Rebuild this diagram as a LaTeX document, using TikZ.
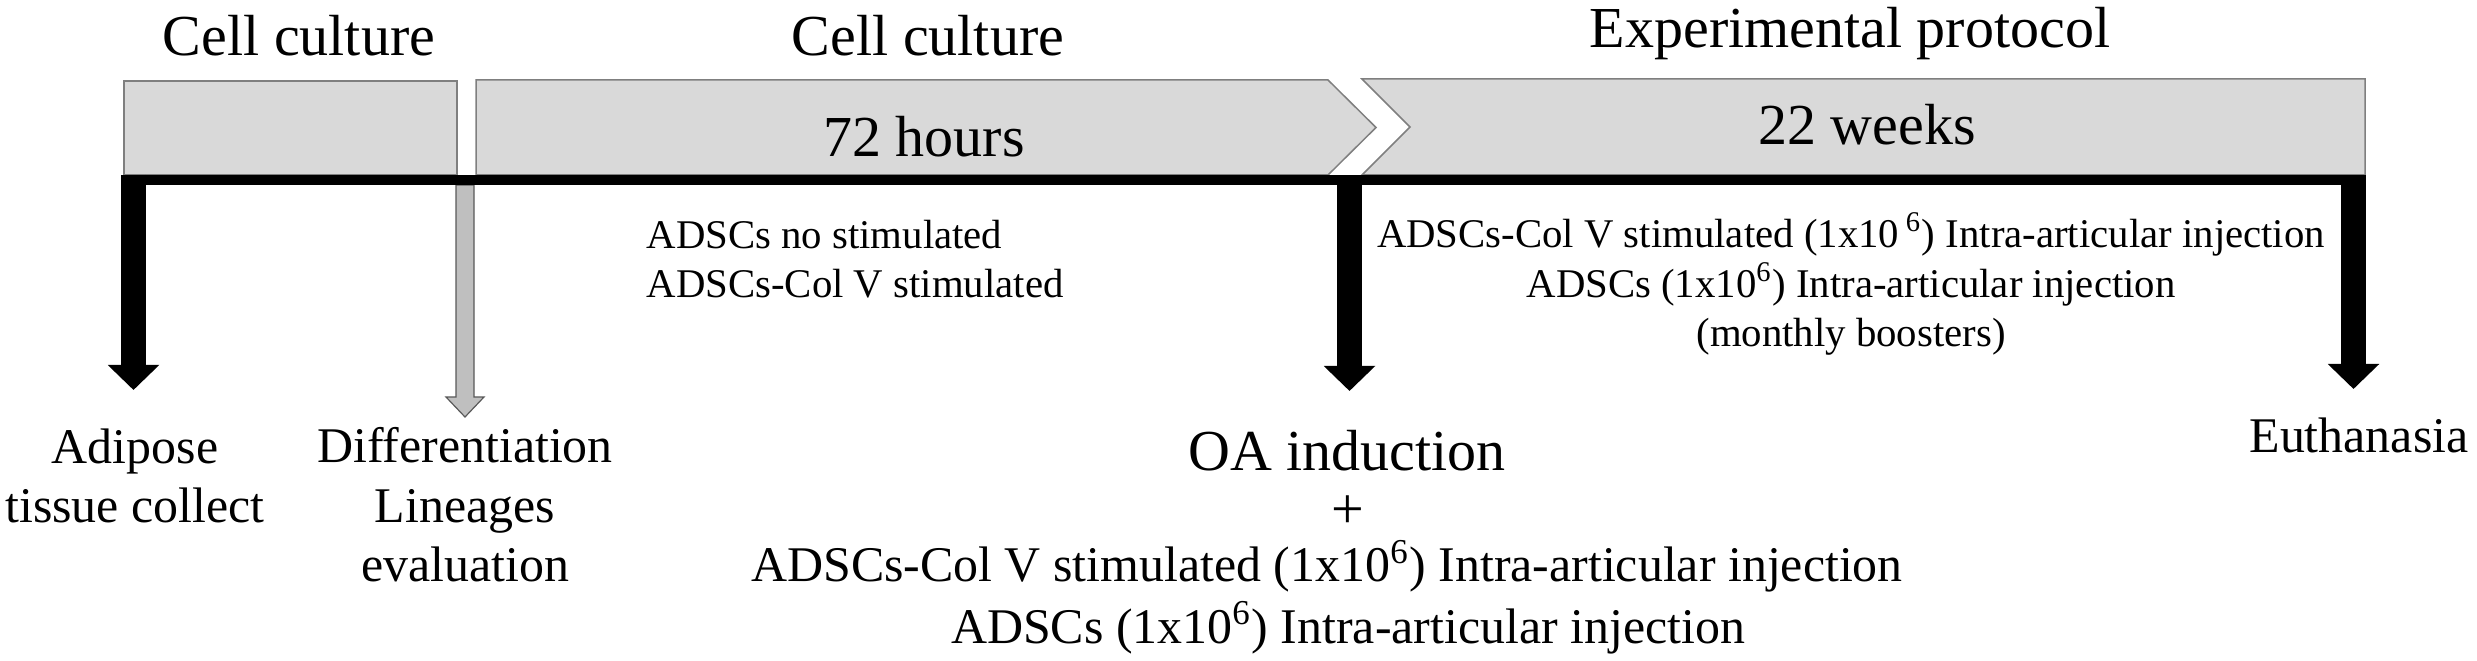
\documentclass[tikz,border=0pt]{standalone}
\usepackage{fontspec}
\setmainfont{Liberation Serif}
\usepackage{xcolor}
\usetikzlibrary{arrows.meta, positioning, calc}
\definecolor{boxgray}{HTML}{D9D9D9}
\definecolor{edgegray}{HTML}{7F7F7F}
\definecolor{arrowgray}{HTML}{BFBFBF}

\begin{document}
\begin{tikzpicture}[x = 0.1mm, y = -0.1mm,
		phase/.style = { fill = boxgray, draw = edgegray, line width = 0.15mm },
		big/.style = { inner sep = 0, anchor = base, font = \fontsize{16.5}{20}\selectfont },
		mid/.style = { inner sep = 0, anchor = base, align = center, font = \fontsize{14.2}{17}\selectfont },
		small/.style = { inner sep = 0, anchor = base, align = center, font = \fontsize{11.6}{14.2}\selectfont },
		stage/.style = { line width = 2.5mm, -{Triangle[length = 2.5mm, width = 5mm]} }]
		\useasboundingbox (0,0) rectangle (2477,661);

		\node [big] (cc1) at (299,56)  {Cell culture};
		\node [big] (cc2) at (928,56)  {Cell culture};
		\node [big] (ep)  at (1850,48) {Experimental protocol};

		\filldraw [phase] (124,81) rectangle (457,175);
		\filldraw [phase] (476,80) -- (1328,80) -- (1376,127.5) -- (1328,175) -- (476,175) -- cycle;
		\filldraw [phase] (1362,79) -- (2365,79) -- (2365,175) -- (1362,175) -- (1410,127) -- cycle;

		\node [big] (h72) at (924,157)  {72 hours};
		\node [big] (w22) at (1867,145) {22 weeks};

		\filldraw [fill = arrowgray, draw = black!65, line width = 0.12mm]
			(456,185) -- (456,397) -- (446,397) -- (465,417) -- (484,397) -- (474,397) -- (474,185) -- cycle;
		\fill (121,175) rectangle (2366,185);

		\foreach \n/\x/\y in {start/133.5/390, oa/1349.5/391, end/2353.5/389} {
			\coordinate (\n top) at (\x,175);
			\coordinate (\n tip) at (\x,\y);
			\draw [stage] (\n top) -- (\n tip);
		}

		\node [mid] (adipose) at (135,523)  {Adipose\\tissue collect};
		\node [mid] (diff)    at (465,582)  {Differentiation\\Lineages\\evaluation};
		\node [mid] (euth)    at (2359,453) {Euthanasia};

		\node [small, align = left, anchor = base west] (invitro) at (646,298) {ADSCs no stimulated\\ADSCs-Col V stimulated};
		\node [small] (booster) at (1851,347) {ADSCs-Col V stimulated (1x10\,\textsuperscript{6}) Intra-articular injection\\ADSCs (1x10\textsuperscript{6}) Intra-articular injection\\(monthly boosters)};

		\node [big] (oa)   at (1347,471) {OA induction};
		\node [big] (plus) at (1348,529) {+};
		\node [mid] (inj1) at (1327,582) {ADSCs-Col V stimulated (1x10\textsuperscript{6}) Intra-articular injection};
		\node [mid] (inj2) at (1348,643) {ADSCs (1x10\textsuperscript{6}) Intra-articular injection};
	\end{tikzpicture}
\end{document}
